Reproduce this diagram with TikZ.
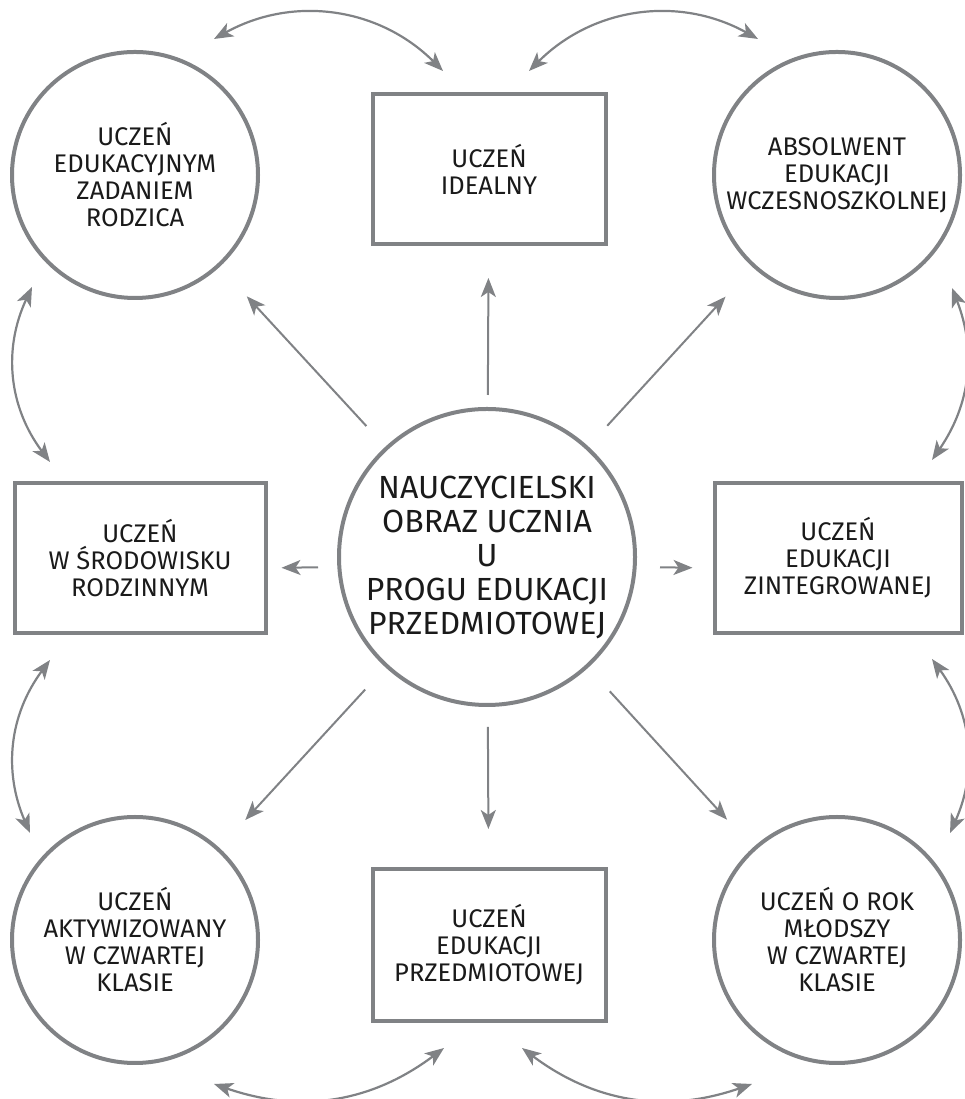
\documentclass[tikz,border=0pt]{standalone}
\usepackage{fontspec}
\setmainfont{Fira Sans}
\usetikzlibrary{arrows.meta, positioning, shapes.geometric}
\definecolor{szary}{HTML}{808285}
\definecolor{tekst}{HTML}{1A1A1A}
\newcommand{\maly}{\fontsize{25.5}{27}\selectfont}
\newcommand{\duzy}{\fontsize{32}{34}\selectfont}

\begin{document}
\begin{tikzpicture}[x=1pt, y=1pt, >={Stealth[length=19pt, width=15pt, inset=5pt]},
  krug/.style={circle, draw=szary, line width=4pt, minimum size=246pt, inner sep=0pt, align=center, font=\maly, text=tekst},
  ramka/.style={rectangle, draw=szary, line width=4pt, inner sep=0pt, align=center, font=\maly, text=tekst},
  strz/.style={->, draw=szary, line width=2pt},
  luk/.style={<->, draw=szary, line width=2.2pt}]
  \useasboundingbox (0,0) rectangle (965,1099);

  % Srodek
  \node[krug, minimum size=296pt, font=\duzy] (c) at (487,542)
    {NAUCZYCIELSKI\\OBRAZ UCZNIA\\U\\PROGU EDUKACJI\\PRZEDMIOTOWEJ};

  % Gorny rzad
  \node[krug] (tl) at (135,924) {UCZEŃ\\EDUKACYJNYM\\ZADANIEM\\RODZICA};
  \node[ramka, minimum width=233pt, minimum height=150pt] (tm) at (489,930) {UCZEŃ\\IDEALNY};
  \node[krug] (tr) at (837,924) {ABSOLWENT\\EDUKACJI\\WCZESNOSZKOLNEJ};

  % Srodkowy rzad
  \node[ramka, minimum width=251pt, minimum height=150pt] (ml) at (140,541) {UCZEŃ\\W ŚRODOWISKU\\RODZINNYM};
  \node[ramka, minimum width=247pt, minimum height=150pt] (mr) at (838,541) {UCZEŃ\\EDUKACJI\\ZINTEGROWANEJ};

  % Dolny rzad
  \node[krug] (bl) at (135,159) {UCZEŃ\\AKTYWIZOWANY\\W CZWARTEJ\\KLASIE};
  \node[ramka, minimum width=233pt, minimum height=152pt] (bm) at (489,154) {UCZEŃ\\EDUKACJI\\PRZEDMIOTOWEJ};
  \node[krug] (br) at (837,159) {UCZEŃ O ROK\\MŁODSZY\\W CZWARTEJ\\KLASIE};

  % Strzalki ze srodka
  \draw[strz, shorten <=12pt, shorten >=32pt] (c) -- (tm);
  \draw[strz, shorten <=20pt, shorten >=38pt] (c) -- (bm);
  \draw[strz, shorten <=28pt, shorten >=40pt] (c) -- (tl);
  \draw[strz, shorten <=28pt, shorten >=40pt] (c) -- (tr);
  \draw[strz, shorten <=30pt, shorten >=38pt] (c) -- (bl);
  \draw[strz, shorten <=32pt, shorten >=38pt] (c) -- (br);
  \draw[strz, shorten <=19pt, shorten >=14pt] ([yshift=-10pt]c.west) -- ([yshift=-10pt]ml.east);
  \draw[strz, shorten <=23pt, shorten >=20pt] ([yshift=-10pt]c.east) -- ([yshift=-10pt]mr.west);

  % Konce lukow
  \coordinate (g1a) at (214,1060);
  \coordinate (g1b) at (443,1028);
  \coordinate (g2a) at (529,1028);
  \coordinate (g2b) at (758,1060);
  \coordinate (l1a) at (32,812);
  \coordinate (l1b) at (50,637);
  \coordinate (l2a) at (50,439);
  \coordinate (l2b) at (30,266);
  \coordinate (p1a) at (952,811);
  \coordinate (p1b) at (932,639);
  \coordinate (p2a) at (932,440);
  \coordinate (p2b) at (950,266);
  \coordinate (d1a) at (214,15);
  \coordinate (d1b) at (444,51);
  \coordinate (d2a) at (522,51);
  \coordinate (d2b) at (752,15);

  % Luki miedzy sasiadami
  \draw[luk] (g1a) to[bend left=37] (g1b);
  \draw[luk] (g2a) to[bend left=37] (g2b);
  \draw[luk] (l1a) to[bend right=31] (l1b);
  \draw[luk] (l2a) to[bend right=30] (l2b);
  \draw[luk] (p1a) to[bend left=28] (p1b);
  \draw[luk] (p2a) to[bend left=30] (p2b);
  \draw[luk] (d1a) to[bend right=28] (d1b);
  \draw[luk] (d2a) to[bend right=28] (d2b);
\end{tikzpicture}
\end{document}
